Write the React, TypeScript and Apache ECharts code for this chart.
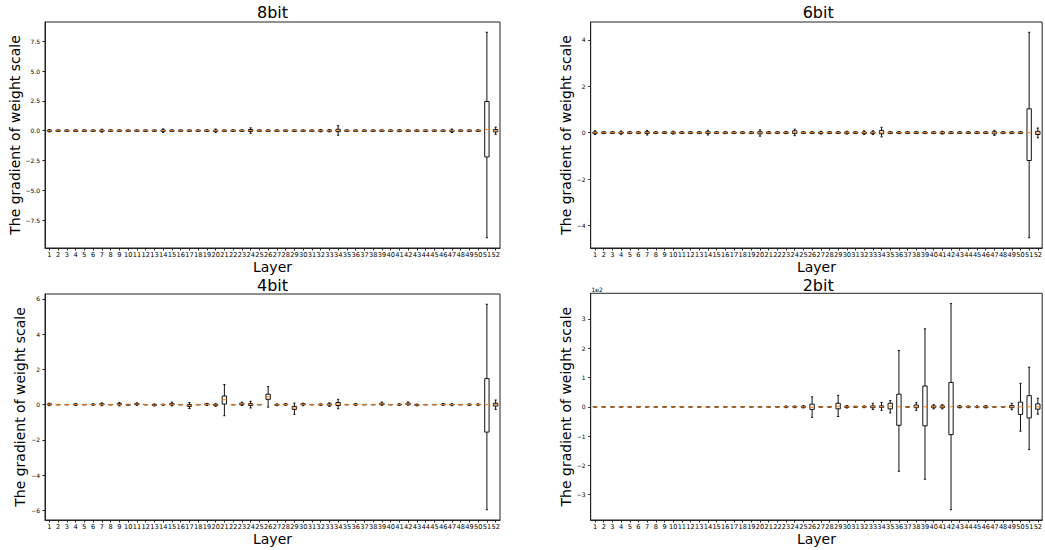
import React, { useEffect, useRef } from 'react';
import * as echarts from 'echarts';

// Layer categories
const layers: string[] = [
  '1','2','3','4','5','6','7','8','9','10','11','12','13','14','15','16','17','18','19','20',
  '21','22','23','24','25','26','27','28','29','30','31','32','33','34','35','36','37','38','39','40',
  '41','42','43','44','45','46','47','48','49','50','51','52',
];

// Each entry: [min, q1, median, q3, max]
const bit8: number[][] = [
  [-0.1,-0.05,0,0.05,0.1],[-0.06,-0.05,0,0.05,0.06],[-0.06,-0.05,0,0.05,0.06],[-0.07,-0.05,0,0.05,0.07],
  [-0.06,-0.05,0,0.05,0.06],[-0.06,-0.05,0,0.05,0.06],[-0.12,-0.05,0.01,0.05,0.12],[-0.06,-0.05,0,0.05,0.06],
  [-0.06,-0.05,0,0.05,0.06],[-0.06,-0.05,0,0.05,0.06],[-0.06,-0.05,0,0.05,0.06],[-0.06,-0.05,0,0.05,0.06],
  [-0.06,-0.05,0,0.05,0.06],[-0.14,-0.05,0.01,0.06,0.15],[-0.06,-0.05,0,0.05,0.06],[-0.06,-0.05,0,0.05,0.06],
  [-0.06,-0.05,0,0.05,0.06],[-0.06,-0.05,0,0.05,0.06],[-0.06,-0.05,0,0.05,0.06],[-0.16,-0.06,0,0.05,0.14],
  [-0.06,-0.05,0,0.05,0.06],[-0.06,-0.05,0,0.05,0.06],[-0.06,-0.05,0,0.05,0.06],[-0.22,-0.06,0.02,0.1,0.24],
  [-0.06,-0.05,0,0.05,0.06],[-0.06,-0.05,0,0.05,0.06],[-0.06,-0.05,0,0.05,0.06],[-0.06,-0.05,0,0.05,0.06],
  [-0.06,-0.05,0,0.05,0.06],[-0.06,-0.05,0,0.05,0.06],[-0.06,-0.05,0,0.05,0.06],[-0.1,-0.05,0,0.05,0.1],
  [-0.1,-0.05,0,0.05,0.1],[-0.38,-0.08,0.03,0.12,0.42],[-0.06,-0.05,0,0.05,0.06],[-0.06,-0.05,0,0.05,0.06],
  [-0.06,-0.05,0,0.05,0.06],[-0.06,-0.05,0,0.05,0.06],[-0.06,-0.05,0,0.05,0.06],[-0.06,-0.05,0,0.05,0.06],
  [-0.08,-0.05,0,0.05,0.08],[-0.06,-0.05,0,0.05,0.06],[-0.06,-0.05,0,0.05,0.06],[-0.06,-0.05,0,0.05,0.06],
  [-0.06,-0.05,0,0.05,0.06],[-0.06,-0.05,0,0.05,0.06],[-0.15,-0.06,0,0.05,0.14],[-0.06,-0.05,0,0.05,0.06],
  [-0.06,-0.05,0,0.05,0.06],[-0.06,-0.05,0,0.05,0.06],[-8.97,-2.2,0.1,2.45,8.25],[-0.3,-0.1,0,0.1,0.3],
];

const bit6: number[][] = [
  [-0.08,-0.03,0,0.03,0.08],[-0.04,-0.03,0,0.03,0.04],[-0.04,-0.03,0,0.03,0.04],[-0.07,-0.03,0,0.03,0.07],
  [-0.04,-0.03,0,0.03,0.04],[-0.04,-0.03,0,0.03,0.04],[-0.1,-0.03,0.01,0.04,0.1],[-0.04,-0.03,0,0.03,0.04],
  [-0.04,-0.03,0,0.03,0.04],[-0.06,-0.03,0,0.03,0.06],[-0.04,-0.03,0,0.03,0.04],[-0.04,-0.03,0,0.03,0.04],
  [-0.04,-0.03,0,0.03,0.04],[-0.1,-0.03,0.01,0.04,0.1],[-0.04,-0.03,0,0.03,0.04],[-0.04,-0.03,0,0.03,0.04],
  [-0.04,-0.03,0,0.03,0.04],[-0.04,-0.03,0,0.03,0.04],[-0.04,-0.03,0,0.03,0.04],[-0.15,-0.05,0,0.04,0.12],
  [-0.04,-0.03,0,0.03,0.04],[-0.04,-0.03,0,0.03,0.04],[-0.04,-0.03,0,0.03,0.04],[-0.13,-0.03,0.03,0.08,0.15],
  [-0.04,-0.03,0,0.03,0.04],[-0.04,-0.03,0,0.03,0.04],[-0.06,-0.03,0,0.03,0.06],[-0.04,-0.03,0,0.03,0.04],
  [-0.04,-0.03,0,0.03,0.04],[-0.06,-0.03,0,0.03,0.06],[-0.04,-0.03,0,0.03,0.04],[-0.08,-0.03,0,0.03,0.08],
  [-0.08,-0.03,0,0.03,0.08],[-0.18,-0.05,0.02,0.1,0.23],[-0.04,-0.03,0,0.03,0.04],[-0.04,-0.03,0,0.03,0.04],
  [-0.04,-0.03,0,0.03,0.04],[-0.04,-0.03,0,0.03,0.04],[-0.04,-0.03,0,0.03,0.04],[-0.04,-0.03,0,0.03,0.04],
  [-0.06,-0.03,0,0.03,0.06],[-0.04,-0.03,0,0.03,0.04],[-0.04,-0.03,0,0.03,0.04],[-0.04,-0.03,0,0.03,0.04],
  [-0.04,-0.03,0,0.03,0.04],[-0.04,-0.03,0,0.03,0.04],[-0.12,-0.05,0,0.04,0.1],[-0.04,-0.03,0,0.03,0.04],
  [-0.04,-0.03,0,0.03,0.04],[-0.04,-0.03,0,0.03,0.04],[-4.53,-1.2,0,1.03,4.33],[-0.22,-0.08,-0.02,0.06,0.2],
];

const bit4: number[][] = [
  [-0.06,-0.01,0.02,0.04,0.08],[-0.01,-0.005,0,0.005,0.01],[-0.01,-0.005,0,0.005,0.01],[-0.05,-0.02,0.01,0.03,0.06],
  [-0.01,-0.005,0,0.005,0.01],[-0.04,-0.01,0,0.02,0.05],[-0.06,-0.01,0.02,0.05,0.1],[-0.01,-0.005,0,0.005,0.01],
  [-0.07,-0.01,0.02,0.06,0.12],[-0.03,-0.02,-0.01,0,0.02],[-0.04,0,0.03,0.06,0.1],[-0.01,-0.005,0,0.005,0.01],
  [-0.08,-0.04,-0.02,0.01,0.04],[-0.03,-0.01,0,0.01,0.03],[-0.07,-0.02,0.02,0.06,0.14],[-0.01,-0.005,0,0.005,0.01],
  [-0.22,-0.1,-0.05,0,0.12],[-0.01,-0.005,0,0.005,0.01],[-0.05,-0.01,0.01,0.04,0.07],[-0.1,-0.05,-0.02,0.02,0.05],
  [-0.63,0.03,0.28,0.49,1.14],[-0.01,-0.005,0,0.005,0.01],[-0.05,0,0.04,0.08,0.14],[-0.19,-0.05,0,0.05,0.19],
  [-0.01,-0.005,0,0.005,0.01],[-0.14,0.3,0.45,0.59,1.02],[-0.06,-0.03,-0.01,0.01,0.04],[-0.04,-0.01,0.01,0.03,0.06],
  [-0.55,-0.27,-0.19,-0.1,0.09],[-0.06,-0.01,0.02,0.05,0.08],[-0.01,-0.005,0,0.005,0.01],[-0.04,-0.02,0,0.02,0.04],
  [-0.1,-0.03,0,0.04,0.1],[-0.23,-0.05,0.03,0.12,0.3],[-0.01,-0.005,0,0.005,0.01],[-0.04,-0.01,0.01,0.03,0.07],
  [-0.01,-0.005,0,0.005,0.01],[-0.01,-0.005,0,0.005,0.01],[-0.04,0,0.04,0.08,0.14],[-0.01,-0.005,0,0.005,0.01],
  [-0.05,-0.02,0,0.02,0.05],[-0.03,0,0.03,0.08,0.15],[-0.07,-0.04,-0.02,0,0.03],[-0.01,-0.005,0,0.005,0.01],
  [-0.01,-0.005,0,0.005,0.01],[-0.04,-0.01,0.01,0.03,0.06],[-0.06,-0.02,0,0.02,0.05],[-0.01,-0.005,0,0.005,0.01],
  [-0.05,-0.02,0,0.02,0.04],[-0.04,-0.01,0.01,0.02,0.04],[-5.97,-1.56,0,1.48,5.7],[-0.28,-0.08,0,0.08,0.26],
];

// values in absolute units (axis labels shown in units of 1e2)
const bit2: number[][] = [
  [-0.3,-0.1,0,0.1,0.3],[-0.3,-0.1,0,0.1,0.3],[-0.3,-0.1,0,0.1,0.3],[-0.3,-0.1,0,0.1,0.3],
  [-0.3,-0.1,0,0.1,0.3],[-0.3,-0.1,0,0.1,0.3],[-0.4,-0.1,0,0.1,0.4],[-0.3,-0.1,0,0.1,0.3],
  [-0.3,-0.1,0,0.1,0.3],[-0.3,-0.1,0,0.1,0.3],[-0.5,-0.2,0,0.2,0.5],[-0.3,-0.1,0,0.1,0.3],
  [-0.3,-0.1,0,0.1,0.3],[-0.5,-0.2,0,0.2,0.5],[-0.5,-0.2,0,0.2,0.5],[-0.3,-0.1,0,0.1,0.3],
  [-0.3,-0.1,0,0.1,0.3],[-0.3,-0.1,0,0.1,0.3],[-0.4,-0.1,0,0.1,0.4],[-0.4,-0.1,0,0.1,0.4],
  [-0.5,-0.2,0,0.2,0.5],[-0.8,-0.3,0,0.3,0.8],[-3,-1,0,1,3],[-3,-1,0,1,3],
  [-4,-1.5,0,1.5,4],[-36,-9,-2,9,34],[-1,-0.5,0,0.5,1],[-1,-0.5,0,0.5,1],
  [-33,-7,2,12,39],[-4,-2,0,2,4],[-2,-1,0,1,2],[-3,-1,0,1,3],
  [-9,-3,0,3,12],[-12,-2,0,3,15],[-21,-7,2,12,21],[-220,-63,0,43,192],
  [-1,-0.5,0,0.5,1],[-12,-3,0,6,14],[-247,-65,0,71,266],[-7,-3,0,3,7],
  [-7,-3,0,3,7],[-351,-95,0,83,352],[-4,-2,0,2,4],[-3,-1,0,1,3],
  [-3,-1,0,1,3],[-4,-2,0,2,4],[-1,-0.5,0,0.5,1],[-1,-0.5,0,0.5,1],
  [-10,-3,0,4,12],[-83,-26,0,16,80],[-146,-38,0,38,135],[-25,-8,0,10,29],
];

const ticks8: number[] = [-7.5, -5, -2.5, 0, 2.5, 5, 7.5];
const ticks6: number[] = [-4, -2, 0, 2, 4];
const ticks4: number[] = [-6, -4, -2, 0, 2, 4, 6];
const ticks2: number[] = [-300, -200, -100, 0, 100, 200, 300];

const FONT = 'DejaVu Sans';
const minus = (s: string) => s.replace('-', '\u2212');

const panels = [
  { title: '8bit', data: bit8, ticks: ticks8, fmt: (v: number) => minus(v.toFixed(1)), left: 45, top: 22, height: 226, nameGap: 22, titleY: 12.8 },
  { title: '6bit', data: bit6, ticks: ticks6, fmt: (v: number) => minus(String(v)), left: 590.7, top: 22, height: 226, nameGap: 16, titleY: 12.8 },
  { title: '4bit', data: bit4, ticks: ticks4, fmt: (v: number) => minus(String(v)), left: 45, top: 294, height: 226, nameGap: 16, titleY: 285.3 },
  { title: '2bit', data: bit2, ticks: ticks2, fmt: (v: number) => minus(String(v / 100)), left: 590.7, top: 293.3, height: 226.7, nameGap: 16, titleY: 285.3 },
];

const renderBox = (params: any, api: any) => {
  const idx = api.value(0);
  const pMin = api.coord([idx, api.value(1)]);
  const x = pMin[0];
  const yMin = pMin[1];
  const yQ1 = api.coord([idx, api.value(2)])[1];
  const yMed = api.coord([idx, api.value(3)])[1];
  const yQ3 = api.coord([idx, api.value(4)])[1];
  const yMax = api.coord([idx, api.value(5)])[1];
  const band = api.size([1, 0])[0];
  const bw = band * 0.5;
  const cw = band * 0.25;
  const st = { stroke: '#111', lineWidth: 1, fill: 'none' };
  return {
    type: 'group',
    children: [
      { type: 'line', shape: { x1: x, y1: yQ1, x2: x, y2: yMin }, style: st },
      { type: 'line', shape: { x1: x, y1: yQ3, x2: x, y2: yMax }, style: st },
      { type: 'line', shape: { x1: x - cw / 2, y1: yMin, x2: x + cw / 2, y2: yMin }, style: st },
      { type: 'line', shape: { x1: x - cw / 2, y1: yMax, x2: x + cw / 2, y2: yMax }, style: st },
      { type: 'rect', shape: { x: x - bw / 2, y: yQ3, width: bw, height: yQ1 - yQ3 }, style: st },
      { type: 'line', shape: { x1: x - bw / 2, y1: yMed, x2: x + bw / 2, y2: yMed }, style: { stroke: '#ff7f0e', lineWidth: 1 } },
    ],
  };
};

export default function App() {
  const ref = useRef<HTMLDivElement>(null);
  useEffect(() => {
    if (!ref.current) return;
    const chart = echarts.init(ref.current, undefined, { renderer: 'svg' });
    const option: any = {
      animation: false,
      backgroundColor: '#fff',
      textStyle: { fontFamily: FONT },
      grid: panels.map((p) => ({
        left: p.left, top: p.top, width: 455, height: p.height,
        show: true, borderColor: '#222', borderWidth: 1, backgroundColor: 'transparent',
      })),
      xAxis: panels.map((p, i) => ({
        type: 'category', gridIndex: i, data: layers, boundaryGap: true,
        name: 'Layer', nameLocation: 'middle', nameGap: 12,
        nameTextStyle: { fontSize: 14, color: '#000', fontFamily: FONT },
        axisLine: { show: true, onZero: false, lineStyle: { color: '#222', width: 1 } },
        axisTick: { show: true, alignWithLabel: true, interval: 0, length: 2.5, lineStyle: { color: '#222' } },
        axisLabel: { interval: 0, fontSize: 6.6, margin: 3, color: '#000', fontFamily: FONT, hideOverlap: false },
        splitLine: { show: false },
      })),
      yAxis: panels.map((p, i) => ({
        type: 'value', gridIndex: i,
        min: (v: any) => v.min - 0.05 * (v.max - v.min),
        max: (v: any) => v.max + 0.05 * (v.max - v.min),
        name: 'The gradient of weight scale', nameLocation: 'middle', nameRotate: 90, nameGap: p.nameGap,
        nameTextStyle: { fontSize: 14, color: '#000', fontFamily: FONT },
        axisLine: { show: true, lineStyle: { color: '#222', width: 1 } },
        axisTick: { show: true, length: 2.5, customValues: p.ticks, lineStyle: { color: '#222' } },
        axisLabel: { customValues: p.ticks, formatter: p.fmt, fontSize: 6, margin: 5, color: '#000', fontFamily: FONT, showMinLabel: true, showMaxLabel: true },
        splitLine: { show: false },
      })),
      series: panels.map((p, i) => ({
        type: 'custom', xAxisIndex: i, yAxisIndex: i,
        renderItem: renderBox,
        encode: { x: 0, y: [1, 2, 3, 4, 5] },
        data: p.data.map((d, j) => [j, ...d]),
        clip: false,
      })),
      graphic: [
        ...panels.map((p) => ({
          type: 'text', x: p.left + 227.5, y: p.titleY,
          style: { text: p.title, font: `16px "${FONT}"`, fill: '#000', align: 'center', verticalAlign: 'middle' },
        })),
        {
          type: 'text', x: 591.5, y: 292.5,
          style: { text: '1e2', font: `6px "${FONT}"`, fill: '#000', align: 'left', verticalAlign: 'bottom' },
        },
      ],
    };
    chart.setOption(option);
    return () => chart.dispose();
  }, []);
  return (
    <div
      ref={ref}
      style={{ position: 'absolute', left: 0, top: 0, width: 1045, height: 550, background: '#fff' }}
    />
  );
}
